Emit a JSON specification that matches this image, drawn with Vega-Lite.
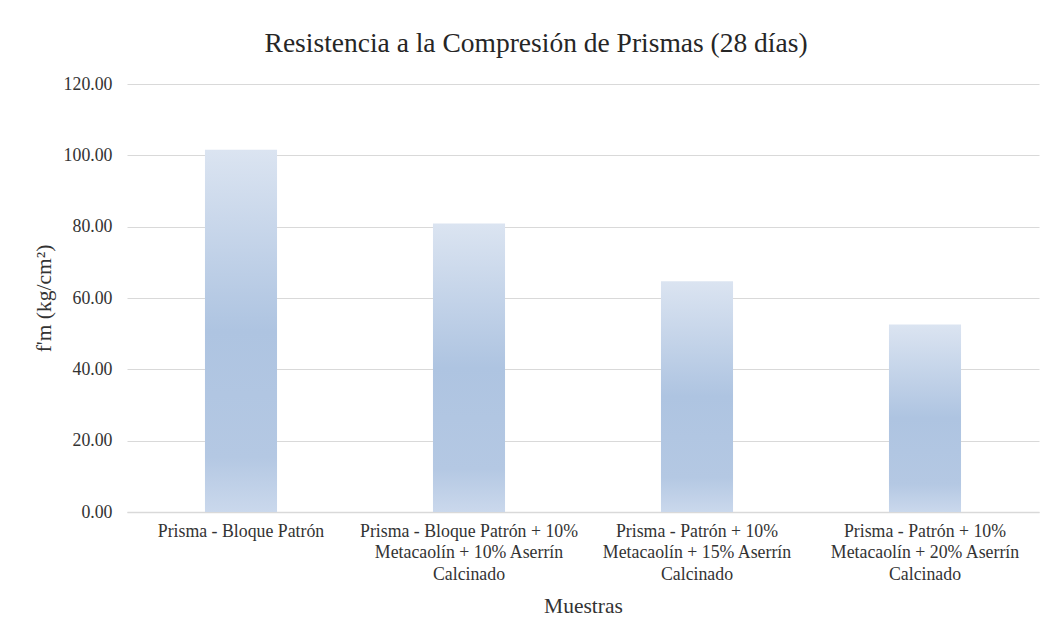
{
  "$schema": "https://vega.github.io/schema/vega-lite/v6.json",
  "autosize": "none",
  "width": 912,
  "height": 428,
  "padding": {"left": 127, "top": 84, "right": 9, "bottom": 119},
  "background": "white",
  "title": {
    "text": "Resistencia a la Compresión de Prismas (28 días)",
    "anchor": "middle",
    "frame": "bounds",
    "font": "Liberation Serif",
    "fontSize": 27.5,
    "fontWeight": "normal",
    "color": "#262626",
    "offset": 18
  },
  "data": {
    "values": [
      {"muestra": "Prisma - Bloque Patrón", "fm": 101.6},
      {"muestra": "Prisma - Bloque Patrón + 10%|Metacaolín + 10% Aserrín|Calcinado", "fm": 80.9},
      {"muestra": "Prisma - Patrón + 10%|Metacaolín + 15% Aserrín|Calcinado", "fm": 64.7},
      {"muestra": "Prisma - Patrón + 10%|Metacaolín + 20% Aserrín|Calcinado", "fm": 52.6}
    ]
  },
  "mark": {
    "type": "bar",
    "color": {
      "gradient": "linear",
      "x1": 0, "y1": 0, "x2": 0, "y2": 1,
      "stops": [
        {"offset": 0, "color": "#dbe4f1"},
        {"offset": 0.5, "color": "#aec4e1"},
        {"offset": 0.85, "color": "#b4c8e3"},
        {"offset": 1, "color": "#cad8ec"}
      ]
    }
  },
  "encoding": {
    "x": {
      "field": "muestra",
      "type": "nominal",
      "sort": null,
      "scale": {"paddingInner": 0.684, "paddingOuter": 0.342},
      "axis": {
        "title": "Muestras",
        "labelExpr": "split(datum.label, '|')",
        "labelAngle": 0,
        "labelFont": "Liberation Serif",
        "labelFontSize": 17.8,
        "labelLineHeight": 21.5,
        "labelColor": "#333333",
        "labelPadding": 10,
        "labelLimit": 300,
        "ticks": false,
        "domainColor": "#d9d9d9",
        "domainWidth": 1.5,
        "titleFont": "Liberation Serif",
        "titleFontSize": 21.5,
        "titleFontWeight": "normal",
        "titleColor": "#333333",
        "titlePadding": 13
      }
    },
    "y": {
      "field": "fm",
      "type": "quantitative",
      "scale": {"domain": [0, 120], "nice": false},
      "axis": {
        "title": "f'm (kg/cm²)",
        "values": [0, 20, 40, 60, 80, 100, 120],
        "format": ".2f",
        "labelFont": "Liberation Serif",
        "labelFontSize": 17.8,
        "labelColor": "#333333",
        "labelPadding": 15,
        "ticks": false,
        "domain": false,
        "gridColor": "#d9d9d9",
        "gridWidth": 1.2,
        "titleFont": "Liberation Serif",
        "titleFontSize": 21.5,
        "titleFontWeight": "normal",
        "titleColor": "#333333",
        "titlePadding": 8
      }
    }
  },
  "config": {
    "view": {"stroke": null}
  }
}
